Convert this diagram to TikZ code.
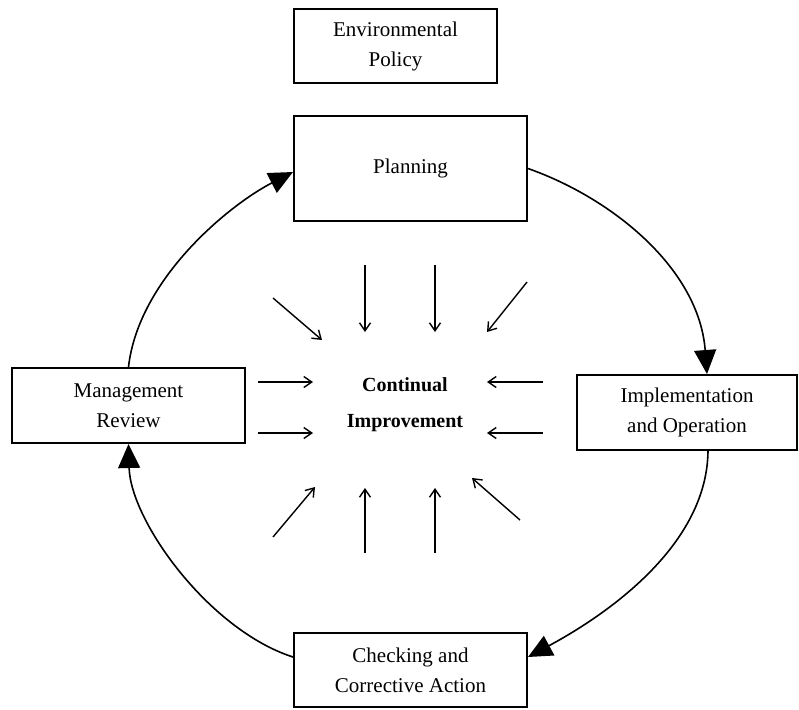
\documentclass[tikz,border=0pt]{standalone}
\usepackage{fontspec}
\setmainfont{Liberation Serif}
\usetikzlibrary{arrows.meta,positioning,calc}

\begin{document}
\begin{tikzpicture}[
    x=0.5pt, y=-0.5pt,
    box/.style={rectangle, draw, line width=1pt, align=center, inner sep=0pt,
                font=\fontsize{10.5}{15}\selectfont},
    cycle/.style={-{Triangle[length=12pt, width=11pt]}, line width=0.8pt},
    spoke/.style={-{Straight Barb[length=4pt, width=5.5pt]}, line width=0.7pt},
    hub/.style={align=center, font=\fontsize{10}{18}\selectfont\bfseries}
]
\useasboundingbox (0,0) rectangle (799,709);

%% ── PDCA boxes ───────────────────────────────────────────────────
\node[box, minimum width=101.5pt, minimum height=37pt] (policy) at (395.5,46)
    {Environmental\\Policy};
\node[box, minimum width=116.5pt, minimum height=52.5pt] (plan) at (410.5,168.5)
    {Planning};
\node[box, minimum width=110pt, minimum height=37.5pt] (impl) at (687,412.5)
    {Implementation\\and Operation};
\node[box, minimum width=116.5pt, minimum height=37pt] (check) at (410.5,670)
    {Checking and\\Corrective Action};
\node[box, minimum width=116.5pt, minimum height=37.5pt] (review) at (128.5,405.5)
    {Management\\Review};

%% ── Centre ───────────────────────────────────────────────────────
\node[hub] (hub) at (405,405) {Continual\\Improvement};

%% ── Cycle arrows ─────────────────────────────────────────────────
\draw[cycle] (plan.east) .. controls +(85,30) and +(-8,-105) .. ([xshift=10pt]impl.north);
\draw[cycle] ([xshift=10.5pt]impl.south) .. controls +(-1,95) and +(78,-42) .. ([yshift=6.5pt]check.east);
\draw[cycle] ([yshift=6.5pt]check.west) .. controls +(-84,-27) and +(2,77) .. (review.south);
\draw[cycle] (review.north) .. controls +(10,-88) and +(-64,33) .. ([yshift=-1.75pt]plan.west);

%% ── Arrows into the centre ───────────────────────────────────────
\foreach \sx/\sy/\ex/\ey [count=\i] in {273/298/322/340, 365/265/365/332,
        435/265/435/332, 527/282/487/332, 258/382/313/382, 258/433/313/433,
        543/382/487/382, 543/433/487/433, 273/537/315/487, 365/553/365/488,
        435/553/435/488, 520/520/472/478} {
    \coordinate (s\i) at (\sx,\sy);
    \coordinate (e\i) at (\ex,\ey);
    \draw[spoke] (s\i) -- (e\i);
}

\end{tikzpicture}
\end{document}
